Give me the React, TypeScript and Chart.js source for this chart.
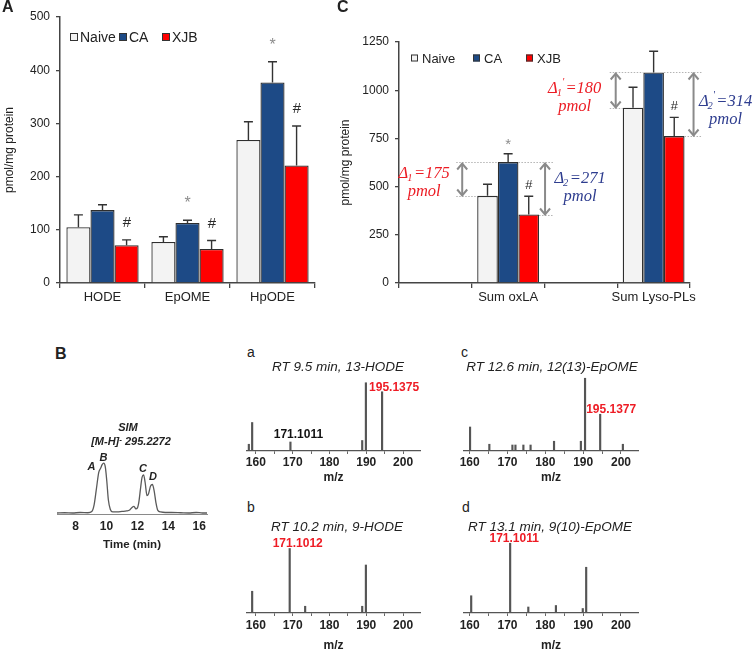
import React, { useEffect, useRef } from 'react';
import { Chart, registerables } from 'chart.js';

Chart.register(...registerables);

const SANS = '"Liberation Sans", Arial, Helvetica, sans-serif';
const SERIF = '"Liberation Serif", "Times New Roman", Times, serif';
Chart.defaults.font.family = SANS;
Chart.defaults.color = '#222';

const NAIVE_FILL = '#f3f3f3';
const CA_FILL = '#1d4a86';
const XJB_FILL = '#ff0000';
const EDGE = '#2e2e2e';
const RED_TEXT = '#ec1c24';
const NAVY_TEXT = '#2e3d8f';

const legendLabels = ['Naive', 'CA', 'XJB'];

// ---------------- Panel A ----------------
const aCategories = ['HODE', 'EpOME', 'HpODE'];
const aNaive = [105, 77, 269];
const aNaiveSD = [23, 10, 34];
const aCA = [137, 113, 377];
const aCASD = [10, 5, 39];
const aXJB = [71, 64, 221];
const aXJBSD = [10, 16, 74];
const aNaiveMarks = ['', '', ''];
const aCAMarks = ['', '*', '*'];
const aXJBMarks = ['#', '#', '#'];
const aYTicks = [0, 100, 200, 300, 400, 500];

// ---------------- Panel C ----------------
const cCategories = ['', 'Sum oxLA', '', 'Sum Lyso-PLs'];
const cNaive = [null, 452, null, 909];
const cNaiveSD = [null, 60, null, 106];
const cCA = [null, 627, null, 1092];
const cCASD = [null, 43, null, 110];
const cXJB = [null, 355, null, 762];
const cXJBSD = [null, 95, null, 97];
const cNaiveMarks = ['', '', '', ''];
const cCAMarks = ['', '*', '', ''];
const cXJBMarks = ['', '#', '', '#'];
const cYTicks = [0, 250, 500, 750, 1000, 1250];
// deltas: category index, lower series index (0 naive, 2 XJB), subscript, prime, value
const cDeltaCat = [1, 1, 3, 3];
const cDeltaLower = [0, 2, 0, 2];
const cDeltaSub = ['1', '2', '1', '2'];
const cDeltaPrime = [false, false, true, true];
const cDeltaValue = [175, 271, 180, 314];

// ---------------- Panel B chromatogram ----------------
const chromTime = [6.8, 7.3, 7.8, 8.3, 8.8, 9.05, 9.2, 9.35, 9.5, 9.62, 9.72, 9.82, 9.92, 10.02, 10.12, 10.25, 10.4, 10.7, 11.0, 11.3, 11.5, 11.65, 11.78, 11.9, 12.0, 12.1, 12.2, 12.3, 12.4, 12.5, 12.62, 12.72, 12.85, 12.97, 13.08, 13.2, 13.32, 13.5, 13.8, 14.2, 14.8, 15.3, 15.8, 16.2, 16.5];
const chromSignal = [2, 2.5, 2, 3, 2.5, 5, 18, 50, 82, 90, 97, 100, 93, 65, 28, 9, 4, 4, 5, 6, 8, 13, 15, 10, 12, 25, 50, 72, 77, 62, 36, 40, 55, 58, 46, 22, 7, 4, 3, 3, 2.5, 2, 3, 2, 2];
const chromTicks = [8, 10, 12, 14, 16];
const chromPeakNames = ['A', 'B', 'C', 'D'];
const chromPeakTime = [9.03, 9.81, 12.36, 13.01];
const chromPeakLevel = [93, 111, 88, 72];

// ---------------- Panel B mass spectra ----------------
const msTicks = [160, 165, 170, 175, 180, 185, 190, 195, 200];
const msTickLabels = [160, 170, 180, 190, 200];
const specA_mz = [158.1, 159.0, 169.4, 188.9, 189.9, 194.3];
const specA_int = [9, 38, 12, 14, 91, 79];
const specB_mz = [159.0, 169.2, 173.4, 188.9, 189.9];
const specB_int = [29, 86, 9, 9, 64];
const specC_mz = [160.1, 165.2, 171.3, 172.1, 174.2, 176.1, 182.3, 189.4, 190.5, 194.5, 200.5];
const specC_int = [32, 9, 8, 8, 8, 8, 13, 13, 97, 49, 9];
const specD_mz = [160.4, 170.7, 175.5, 182.8, 189.9, 190.8];
const specD_int = [23, 93, 8, 10, 6, 61];

type Num = number | null;

function barPanel(p: any) {
  const fills = [NAIVE_FILL, CA_FILL, XJB_FILL];
  const extras = {
    id: 'extras',
    afterDatasetsDraw(chart: any) {
      const ctx = chart.ctx;
      const ys = chart.scales.y;
      const area = chart.chartArea;
      ctx.save();
      p.values.forEach((vals: Num[], di: number) => {
        const meta = chart.getDatasetMeta(di);
        vals.forEach((v, i) => {
          const sd = p.sds[di][i];
          if (v == null || sd == null) return;
          const el = meta.data[i];
          const top = ys.getPixelForValue(v + sd);
          ctx.strokeStyle = '#333';
          ctx.lineWidth = 1.4;
          ctx.beginPath();
          ctx.moveTo(el.x, el.y);
          ctx.lineTo(el.x, top);
          ctx.moveTo(el.x - 4.5, top);
          ctx.lineTo(el.x + 4.5, top);
          ctx.stroke();
          const m = p.marks[di][i];
          ctx.textAlign = 'center';
          ctx.textBaseline = 'middle';
          if (m === '*') {
            ctx.font = `${p.starSize}px ${SANS}`;
            ctx.fillStyle = '#8c8c8c';
            ctx.fillText('*', el.x, top - p.starLift + p.starSize * 0.23);
          } else if (m === '#') {
            ctx.font = `italic ${p.hashSize}px ${SANS}`;
            ctx.fillStyle = '#2a2a2a';
            ctx.fillText('#', el.x, top - p.hashLift);
          }
        });
      });
      const ly = area.top + p.legendDy;
      legendLabels.forEach((lab, i) => {
        const bx = area.left + p.legendXs[i];
        const b = p.legendBox;
        ctx.fillStyle = fills[i];
        ctx.fillRect(bx, ly - b / 2, b, b);
        ctx.strokeStyle = '#333';
        ctx.lineWidth = 1;
        ctx.strokeRect(bx + 0.5, ly - b / 2 + 0.5, b - 1, b - 1);
        ctx.fillStyle = '#222';
        ctx.font = `${p.legendFont}px ${SANS}`;
        ctx.textAlign = 'left';
        ctx.textBaseline = 'middle';
        ctx.fillText(lab, bx + b + p.legendGap, ly + 1);
      });
      ctx.restore();
    },
  };
  return {
    type: 'bar',
    data: {
      labels: p.labels,
      datasets: p.values.map((v: Num[], i: number) => ({
        label: legendLabels[i],
        data: v,
        backgroundColor: fills[i],
        borderColor: EDGE,
        borderWidth: 1.3,
        categoryPercentage: 0.85,
        barPercentage: 1.0,
      })),
    },
    options: {
      responsive: false,
      animation: false,
      devicePixelRatio: 1,
      layout: { padding: { top: p.padTop, right: p.padRight, left: 0, bottom: 0 } },
      plugins: { legend: { display: false }, tooltip: { enabled: false } },
      scales: {
        x: {
          type: 'category',
          offset: true,
          grid: { offset: true, drawOnChartArea: false, drawTicks: true, tickLength: 5, color: '#444', lineWidth: 1.3 },
          border: { display: true, color: '#444', width: 1.5 },
          ticks: { color: '#222', font: { size: 13, family: SANS }, padding: 2, maxRotation: 0, autoSkip: false },
          afterFit: (s: any) => { s.height = p.xHeight; },
        },
        y: {
          min: p.yTicks[0],
          max: p.yTicks[p.yTicks.length - 1],
          afterBuildTicks: (s: any) => { s.ticks = p.yTicks.map((v: number) => ({ value: v })); },
          ticks: { color: '#222', font: { size: 12, family: SANS }, padding: 6, callback: (v: any) => String(v) },
          grid: { drawOnChartArea: false, drawTicks: true, tickLength: 4, color: '#444', lineWidth: 1.3 },
          border: { display: true, color: '#444', width: 1.5 },
          title: { display: true, text: 'pmol/mg protein', font: { size: 12, family: SANS }, color: '#222', padding: { top: 2, bottom: 0 } },
          afterFit: (s: any) => { s.width = p.yWidth; },
        },
      },
    },
    plugins: [extras, ...(p.extra || [])],
  };
}

function drawDelta(ctx: any, cx: number, base: number, sub: string, prime: boolean, value: number, color: string) {
  const big = `italic 16.5px ${SERIF}`;
  const small = `italic 10.5px ${SERIF}`;
  ctx.font = big;
  const wD = ctx.measureText('Δ').width;
  const rest = '=' + value;
  const wR = ctx.measureText(rest).width;
  ctx.font = small;
  const wS = ctx.measureText(sub).width;
  const extra = prime ? 2.5 : 0.5;
  const w = wD + wS + extra + wR;
  let x = cx - w / 2;
  ctx.fillStyle = color;
  ctx.textAlign = 'left';
  ctx.textBaseline = 'alphabetic';
  ctx.font = big;
  ctx.fillText('Δ', x, base);
  x += wD;
  ctx.font = small;
  ctx.fillText(sub, x - 1, base + 3);
  if (prime) ctx.fillText("'", x + wS - 1, base - 8);
  x += wS + extra;
  ctx.font = big;
  ctx.fillText(rest, x, base);
  ctx.textAlign = 'center';
  ctx.fillText('pmol', cx, base + 18);
}

const cDeltaLayout = [
  { gap: 15, textDx: -38, textDy: -1.5 },
  { gap: 6, textDx: 35, textDy: -6 },
  { gap: 7, textDx: -41, textDy: 2.5 },
  { gap: 9, textDx: 32, textDy: 1 },
];

const deltaPlugin = {
  id: 'deltas',
  afterDatasetsDraw(chart: any) {
    const ctx = chart.ctx;
    const bars = [0, 1, 2].map((d) => chart.getDatasetMeta(d).data);
    ctx.save();
    const seg = (x1: number, y1: number, x2: number, y2: number) => {
      ctx.beginPath();
      ctx.moveTo(x1, y1);
      ctx.lineTo(x2, y2);
      ctx.stroke();
    };
    cDeltaCat.forEach((cat, k) => {
      const lay = cDeltaLayout[k];
      const hi = bars[1][cat];
      const lo = bars[cDeltaLower[k]][cat];
      const yHi = Math.round(hi.y) + 0.5;
      const yLo = Math.round(lo.y) + 0.5;
      let ax: number;
      ctx.strokeStyle = '#b4b4b4';
      ctx.lineWidth = 1;
      ctx.setLineDash([1.5, 1.5]);
      if (cDeltaLower[k] === 0) {
        const lLeft = lo.x - lo.width / 2;
        ax = lLeft - lay.gap;
        seg(ax - 6, yHi, hi.x - hi.width / 2, yHi);
        seg(ax - 6, yLo, lLeft, yLo);
      } else {
        const lRight = lo.x + lo.width / 2;
        ax = lRight + lay.gap;
        seg(hi.x + hi.width / 2, yHi, ax + 9, yHi);
        seg(lRight, yLo, ax + 9, yLo);
      }
      ctx.setLineDash([]);
      ctx.strokeStyle = '#8a8a8a';
      ctx.lineWidth = 2;
      seg(ax, yHi + 1, ax, yLo - 1);
      ctx.beginPath();
      ctx.moveTo(ax - 5, yHi + 7);
      ctx.lineTo(ax, yHi + 1);
      ctx.lineTo(ax + 5, yHi + 7);
      ctx.moveTo(ax - 5, yLo - 7);
      ctx.lineTo(ax, yLo - 1);
      ctx.lineTo(ax + 5, yLo - 7);
      ctx.stroke();
      const color = cDeltaLower[k] === 0 ? RED_TEXT : NAVY_TEXT;
      drawDelta(ctx, ax + lay.textDx, (yHi + yLo) / 2 + lay.textDy, cDeltaSub[k], cDeltaPrime[k], cDeltaValue[k], color);
    });
    ctx.restore();
  },
};

const chromLabelPlugin = {
  id: 'chromLabels',
  afterDatasetsDraw(chart: any) {
    const ctx = chart.ctx;
    const xs = chart.scales.x;
    const ys = chart.scales.y;
    ctx.save();
    ctx.font = `italic bold 11px ${SANS}`;
    ctx.fillStyle = '#222';
    ctx.textAlign = 'center';
    ctx.textBaseline = 'middle';
    chromPeakNames.forEach((n, i) => {
      ctx.fillText(n, xs.getPixelForValue(chromPeakTime[i]), ys.getPixelForValue(chromPeakLevel[i]));
    });
    ctx.restore();
  },
};

function chromConfig() {
  return {
    type: 'line',
    data: {
      datasets: [{
        data: chromTime.map((t, i) => ({ x: t, y: chromSignal[i] })),
        borderColor: '#5a5a5a',
        borderWidth: 1.3,
        pointRadius: 0,
        cubicInterpolationMode: 'monotone',
        fill: false,
      }],
    },
    options: {
      responsive: false,
      animation: false,
      devicePixelRatio: 1,
      layout: { padding: { left: 17, right: 13, top: 53, bottom: 0 } },
      plugins: { legend: { display: false }, tooltip: { enabled: false } },
      scales: {
        x: {
          type: 'linear',
          min: 6.8,
          max: 16.5,
          afterBuildTicks: (s: any) => { s.ticks = chromTicks.map((v) => ({ value: v })); },
          ticks: { autoSkip: false, maxRotation: 0, font: { size: 12, weight: 'bold', family: SANS }, color: '#222', padding: 5 },
          grid: { display: false, drawTicks: false, tickLength: 0 },
          border: { display: true, color: '#8a8a8a', width: 1 },
          title: { display: true, text: 'Time (min)', font: { size: 11.5, weight: 'bold', family: SANS }, color: '#222', padding: { top: 0, bottom: 3 } },
          afterFit: (s: any) => { s.height = 41; },
        },
        y: { display: false, min: 0, max: 120 },
      },
    },
    plugins: [chromLabelPlugin],
  };
}

function specConfig(mz: number[], inten: number[], min: number, max: number, tickPad: number, titlePad: number, labels: any[]) {
  const labelPlugin = {
    id: 'peakLabels',
    afterDatasetsDraw(chart: any) {
      const ctx = chart.ctx;
      const meta = chart.getDatasetMeta(0);
      ctx.save();
      ctx.font = `bold 12px ${SANS}`;
      ctx.textAlign = 'center';
      ctx.textBaseline = 'middle';
      labels.forEach((l) => {
        const el = meta.data[l.index];
        ctx.fillStyle = l.color;
        ctx.fillText(l.text, el.x + l.dx, el.y + l.dy + 1);
      });
      ctx.restore();
    },
  };
  return {
    type: 'bar',
    data: {
      datasets: [{
        data: mz.map((x, i) => ({ x, y: inten[i] })),
        backgroundColor: '#555',
        borderWidth: 0,
        barThickness: 1.5,
      }],
    },
    options: {
      responsive: false,
      animation: false,
      devicePixelRatio: 1,
      layout: { padding: { top: 6, left: 12, right: 12, bottom: 0 } },
      plugins: { legend: { display: false }, tooltip: { enabled: false } },
      scales: {
        x: {
          type: 'linear',
          min,
          max,
          offset: false,
          afterBuildTicks: (s: any) => { s.ticks = msTicks.map((v) => ({ value: v })); },
          ticks: {
            autoSkip: false,
            maxRotation: 0,
            callback: (v: any) => (msTickLabels.includes(v) ? String(v) : ''),
            font: { size: 12, weight: 'bold', family: SANS },
            color: '#222',
            padding: tickPad,
          },
          grid: { display: true, offset: false, drawOnChartArea: false, drawTicks: true, tickLength: 3, color: '#666', lineWidth: 1 },
          border: { display: true, color: '#555', width: 1.3 },
          title: { display: true, text: 'm/z', font: { size: 12, weight: 'bold', family: SANS }, color: '#222', padding: { top: 0, bottom: titlePad } },
          afterFit: (s: any) => { s.height = 40; },
        },
        y: { display: false, min: 0, max: 100 },
      },
    },
    plugins: [labelPlugin],
  };
}

function ChartBox({ left, top, width, height, make }: any) {
  const ref = useRef<HTMLCanvasElement>(null);
  useEffect(() => {
    const chart = new Chart(ref.current as any, make());
    return () => chart.destroy();
  }, []);
  return (
    <div style={{ position: 'absolute', left, top, width, height }}>
      <canvas ref={ref} width={width} height={height} style={{ display: 'block', width, height }} />
    </div>
  );
}

function Txt({ x, y, size, weight, italic, anchor, color, children }: any) {
  return (
    <div
      style={{
        position: 'absolute',
        left: x,
        top: y - 0.8465 * size,
        fontSize: size,
        lineHeight: `${size}px`,
        fontWeight: weight || 'normal',
        fontStyle: italic ? 'italic' : 'normal',
        fontFamily: SANS,
        color: color || '#222',
        whiteSpace: 'nowrap',
        transform: anchor === 'center' ? 'translateX(-50%)' : undefined,
      }}
    >
      {children}
    </div>
  );
}

export default function App() {
  const makeA = () => barPanel({
    labels: aCategories,
    values: [aNaive, aCA, aXJB],
    sds: [aNaiveSD, aCASD, aXJBSD],
    marks: [aNaiveMarks, aCAMarks, aXJBMarks],
    yTicks: aYTicks,
    padTop: 17, padRight: 5, yWidth: 60, xHeight: 27,
    legendXs: [10, 59, 102], legendDy: 20, legendBox: 8, legendFont: 14, legendGap: 2,
    starLift: 20, hashLift: 17, starSize: 16, hashSize: 15,
  });
  const makeC = () => barPanel({
    labels: cCategories,
    values: [cNaive, cCA, cXJB],
    sds: [cNaiveSD, cCASD, cXJBSD],
    marks: [cNaiveMarks, cCAMarks, cXJBMarks],
    yTicks: cYTicks,
    padTop: 42, padRight: 63, yWidth: 63, xHeight: 27,
    legendXs: [12, 74, 127], legendDy: 16, legendBox: 7, legendFont: 13, legendGap: 4,
    starLift: 12, hashLift: 11, starSize: 15, hashSize: 13,
    extra: [deltaPlugin],
  });
  const red = '#ee1c25';
  return (
    <div style={{ position: 'absolute', left: 0, top: 0, width: 753, height: 654, background: '#fff', overflow: 'hidden' }}>
      <ChartBox left={0} top={0} width={320} height={310} make={makeA} />
      <ChartBox left={336} top={0} width={417} height={310} make={makeC} />
      <ChartBox left={40} top={400} width={180} height={155} make={chromConfig} />
      <ChartBox left={235} top={370} width={197} height={121}
        make={() => specConfig(specA_mz, specA_int, 157.6, 204.6, 1, 6, [
          { index: 5, text: '195.1375', color: red, dx: 12, dy: -5 },
          { index: 2, text: '171.1011', color: '#111', dx: 8, dy: -8 },
        ])} />
      <ChartBox left={452} top={370} width={198} height={121}
        make={() => specConfig(specC_mz, specC_int, 158.5, 204.5, 1, 6, [
          { index: 9, text: '195.1377', color: red, dx: 11, dy: -6 },
        ])} />
      <ChartBox left={235} top={532} width={197} height={121}
        make={() => specConfig(specB_mz, specB_int, 157.6, 204.6, 2, 0, [
          { index: 1, text: '171.1012', color: red, dx: 8, dy: -6 },
        ])} />
      <ChartBox left={452} top={532} width={198} height={121}
        make={() => specConfig(specD_mz, specD_int, 158.5, 204.5, 2, 0, [
          { index: 1, text: '171.1011', color: red, dx: 4, dy: -6 },
        ])} />

      <Txt x={2} y={13} size={16} weight="bold">A</Txt>
      <Txt x={337} y={13} size={16} weight="bold">C</Txt>
      <Txt x={55} y={360} size={16} weight="bold">B</Txt>

      <Txt x={128} y={431} size={11} weight="bold" italic anchor="center">SIM</Txt>
      <Txt x={131} y={445} size={11} weight="bold" italic anchor="center">
        [M-H]<sup style={{ fontSize: 8, verticalAlign: 'top', lineHeight: '8px' }}>-</sup> 295.2272
      </Txt>

      <Txt x={247} y={357} size={14}>a</Txt>
      <Txt x={461} y={357} size={14}>c</Txt>
      <Txt x={247} y={512} size={14}>b</Txt>
      <Txt x={462} y={512} size={14}>d</Txt>

      <Txt x={338} y={371} size={13.5} italic anchor="center">RT 9.5 min, 13-HODE</Txt>
      <Txt x={552} y={371} size={13.5} italic anchor="center">RT 12.6 min, 12(13)-EpOME</Txt>
      <Txt x={337} y={531} size={13.5} italic anchor="center">RT 10.2 min, 9-HODE</Txt>
      <Txt x={550} y={531} size={13.5} italic anchor="center">RT 13.1 min, 9(10)-EpOME</Txt>
    </div>
  );
}
